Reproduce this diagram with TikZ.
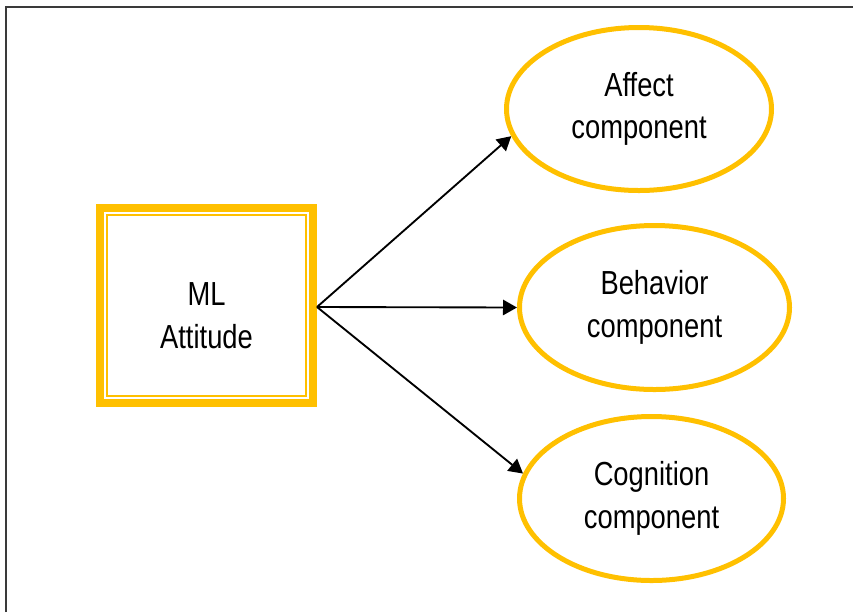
\documentclass[tikz,border=0pt]{standalone}
\usepackage{fontspec}
\setmainfont{Liberation Sans}[FakeStretch=0.82]
\usetikzlibrary{shapes.geometric,arrows.meta}
\definecolor{gold}{HTML}{FFC000}
\definecolor{framegray}{HTML}{3A3A3A}
\begin{document}
\begin{tikzpicture}[x=0.75pt,y=-0.75pt,
  comp/.style={ellipse,draw=gold,line width=3.75pt,inner sep=0pt,align=center,
    font=\fontsize{25}{32}\selectfont},
  arr/.style={line width=1.4pt,-{Triangle[length=10.5pt,width=11.5pt]}},
  framestyle/.style={line width=1.5pt,draw=framegray}]
\useasboundingbox (0,0) rectangle (853,612);
% frame
\coordinate (f1) at (6,612);
\coordinate (f2) at (6,7);
\coordinate (f3) at (853,7);
\draw[framestyle] (f1) -- (f2) -- (f3);
% attitude box
\node[draw=gold,line width=6pt,minimum width=159.75pt,minimum height=146.25pt,
  inner sep=0pt] (att) at (206.5,305.5) {};
\draw[gold,line width=1.5pt] (107,215) rectangle (306,396);
\node[align=center,inner sep=0pt,font=\fontsize{25}{32}\selectfont] (atttext) at (206.5,316) {ML\\Attitude};
\coordinate (src) at (317,307);
% components
\node[comp,minimum width=198.75pt,minimum height=122.25pt] (aff) at (639,109) {Affect\\component};
\node[comp,minimum width=202.5pt,minimum height=123pt] (beh) at (654.5,307.5) {Behavior\\component};
\node[comp,minimum width=198pt,minimum height=123pt] (cog) at (651.5,498.5) {Cognition\\component};
% arrows
\draw[arr] (src) -- (aff.192.4);
\draw[arr] (src) -- (beh.180);
\draw[arr] (src) -- (cog.169.3);
\end{tikzpicture}
\end{document}
